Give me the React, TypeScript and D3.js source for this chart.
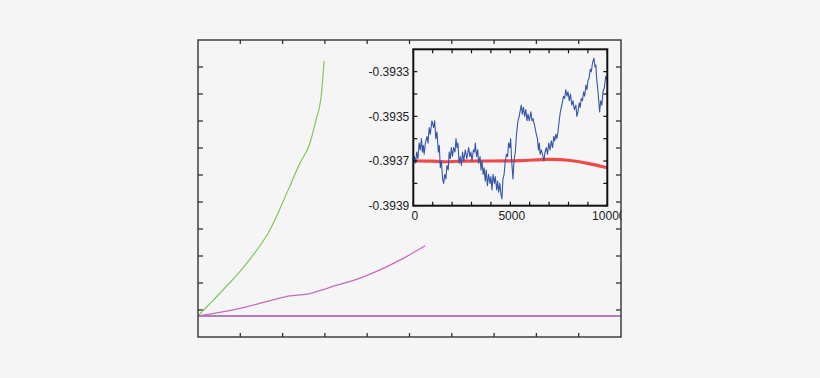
import React from "react";
import * as d3 from "d3";

// Main plot (arbitrary units: x ticks 0..10, y ticks 0..11)
const mainXTicks = [1, 2, 3, 4, 5, 6, 7, 8, 9];
const mainYTicks = [1, 2, 3, 4, 5, 6, 7, 8, 9, 10];
const baselineLevel = 0.78;
const greenX = [0, 0.21, 0.59, 1.15, 1.7, 2.13, 2.41, 2.63, 2.79, 2.92, 2.98];
const greenY = [0.78, 1.12, 1.74, 2.73, 3.96, 5.44, 6.44, 7.11, 8.04, 9.03, 10.22];
const magentaX = [0, 0.99, 1.62, 2.17, 2.57, 3.12, 3.91, 4.38, 4.85, 5.37];
const magentaY = [0.78, 1.06, 1.31, 1.52, 1.59, 1.84, 2.23, 2.54, 2.91, 3.38];

// Inset
const insetXTicks = [0, 1000, 2000, 3000, 4000, 5000, 6000, 7000, 8000, 9000, 10000];
const insetXLabels = [0, 5000, 10000];
const insetYTicks = [-0.3939, -0.3938, -0.3937, -0.3936, -0.3935, -0.3934, -0.3933];
const insetYLabels = [-0.3939, -0.3937, -0.3935, -0.3933];
const blueX = [0, 60, 120, 172, 240, 300, 361, 420, 470, 515, 560, 620, 704, 760, 820, 876, 960, 1048, 1100, 1160, 1220, 1290, 1340, 1392, 1450, 1510, 1564, 1620, 1680, 1735, 1800, 1850, 1907, 1960, 2020, 2079, 2150, 2200, 2251, 2300, 2360, 2423, 2480, 2540, 2600, 2680, 2760, 2852, 2920, 2970, 3024, 3100, 3160, 3196, 3260, 3320, 3368, 3440, 3490, 3540, 3600, 3650, 3711, 3760, 3820, 3883, 3950, 4000, 4055, 4110, 4180, 4227, 4300, 4350, 4399, 4460, 4520, 4570, 4620, 4680, 4742, 4800, 4860, 4914, 4970, 5017, 5070, 5137, 5190, 5258, 5320, 5395, 5460, 5520, 5567, 5620, 5680, 5739, 5800, 5860, 5911, 5980, 6060, 6120, 6168, 6250, 6340, 6400, 6450, 6495, 6540, 6598, 6660, 6735, 6790, 6856, 6920, 6980, 7050, 7113, 7180, 7240, 7285, 7350, 7400, 7457, 7520, 7580, 7629, 7680, 7740, 7801, 7860, 7920, 7973, 8040, 8100, 8170, 8230, 8300, 8380, 8430, 8488, 8550, 8600, 8660, 8720, 8780, 8832, 8900, 8950, 9003, 9060, 9120, 9175, 9240, 9313, 9370, 9410, 9450, 9500, 9550, 9605, 9660, 9720, 9777, 9850, 9920, 10000];
const blueY = [-0.39372, -0.39368, -0.39371, -0.39366, -0.39369, -0.39362, -0.39365, -0.3936, -0.39366, -0.39363, -0.39367, -0.39362, -0.39359, -0.39362, -0.39355, -0.39358, -0.39352, -0.39355, -0.39352, -0.3936, -0.39357, -0.39366, -0.39363, -0.39373, -0.3937, -0.39378, -0.3938, -0.39376, -0.39378, -0.39372, -0.39374, -0.39366, -0.39369, -0.39364, -0.39368, -0.39364, -0.39366, -0.3936, -0.39364, -0.39362, -0.39371, -0.39368, -0.39372, -0.39366, -0.3937, -0.39365, -0.39369, -0.39364, -0.39368, -0.39366, -0.3937, -0.39365, -0.39366, -0.39362, -0.39368, -0.39365, -0.39371, -0.39368, -0.39374, -0.3937, -0.39376, -0.39373, -0.39379, -0.39374, -0.39381, -0.39376, -0.3938, -0.39377, -0.39383, -0.39376, -0.3938, -0.39377, -0.39383, -0.39379, -0.39384, -0.3938, -0.39385, -0.39387, -0.39378, -0.39376, -0.3937, -0.39367, -0.39368, -0.39362, -0.39364, -0.3936, -0.3937, -0.39378, -0.3937, -0.39366, -0.39358, -0.39352, -0.3935, -0.39347, -0.39345, -0.39349, -0.39346, -0.3935, -0.39347, -0.39352, -0.39349, -0.39352, -0.39348, -0.39352, -0.39351, -0.39354, -0.39358, -0.3936, -0.39365, -0.39362, -0.39367, -0.39365, -0.39367, -0.3937, -0.39366, -0.39364, -0.39367, -0.39362, -0.39365, -0.39361, -0.39364, -0.39359, -0.39361, -0.39358, -0.3936, -0.39357, -0.39352, -0.39348, -0.39346, -0.39344, -0.39341, -0.39342, -0.39338, -0.39341, -0.39339, -0.39343, -0.3934, -0.39345, -0.39343, -0.39347, -0.39345, -0.3935, -0.39348, -0.39344, -0.39346, -0.39342, -0.39343, -0.39339, -0.39341, -0.39336, -0.39338, -0.39334, -0.39333, -0.39329, -0.3933, -0.39326, -0.39324, -0.39328, -0.39327, -0.39333, -0.39337, -0.39342, -0.39348, -0.39343, -0.39345, -0.39339, -0.39337, -0.39332, -0.39334];
const redX = [0, 1000, 1500, 2500, 4000, 5500, 7000, 8000, 9000, 10000];
const redY = [-0.3937, -0.3937, -0.393705, -0.3937, -0.3937, -0.3937, -0.39369, -0.393695, -0.39371, -0.39373];

export default function App() {
  const W = 820, H = 378;
  const mx = d3.scaleLinear().domain([0, 10]).range([198, 621]);
  const my = d3.scaleLinear().domain([0, 11]).range([337, 40]);
  const ix = d3.scaleLinear().domain([0, 10000]).range([413.3, 607.3]);
  const iy = d3.scaleLinear().domain([-0.3939, -0.3932]).range([205.7, 49.3]);

  const lineFrom = (xs: number[], ys: number[], sx: any, sy: any, curve: any = d3.curveLinear) =>
    d3.line<number>().curve(curve).x((d) => sx(d)).y((_, i) => sy(ys[i]))(xs) || "";

  const font = "'Liberation Sans', Arial, Helvetica, sans-serif";
  const [x0, x1] = mx.range();
  const [y0, y1] = my.range();
  const [ix0, ix1] = ix.range();
  const [iy0, iy1] = iy.range();

  return (
    <svg width={W} height={H} style={{ position: "absolute", left: 0, top: 0 }}>
      <defs>
        <clipPath id="insetClip">
          <rect x={ix0} y={iy1} width={ix1 - ix0} height={iy0 - iy1} />
        </clipPath>
        <clipPath id="mainClip">
          <rect x={0} y={0} width={x1 + 0.5} height={H} />
        </clipPath>
      </defs>
      <rect x={0} y={0} width={W} height={H} fill="#f5f5f5" />

      {/* main plot */}
      <g stroke="#333" strokeWidth={1.3}>
        {mainXTicks.map((t) => (
          <g key={"mx" + t}>
            <line x1={mx(t)} x2={mx(t)} y1={y1} y2={y1 + 4} />
            <line x1={mx(t)} x2={mx(t)} y1={y0} y2={y0 - 4} />
          </g>
        ))}
        {mainYTicks.map((t) => (
          <g key={"my" + t}>
            <line x1={x0} x2={x0 + 5} y1={my(t)} y2={my(t)} />
            <line x1={x1} x2={x1 - 5} y1={my(t)} y2={my(t)} />
          </g>
        ))}
      </g>
      <line x1={x0} x2={x1} y1={my(baselineLevel)} y2={my(baselineLevel)} stroke="#b07fb8" strokeWidth={2} />
      <path d={lineFrom(greenX, greenY, mx, my, d3.curveMonotoneX)} fill="none" stroke="#7ec85e" strokeWidth={1.2} />
      <path d={lineFrom(magentaX, magentaY, mx, my, d3.curveMonotoneX)} fill="none" stroke="#c46cc4" strokeWidth={1.3} />
      <rect x={x0} y={y1} width={x1 - x0} height={y0 - y1} fill="none" stroke="#333" strokeWidth={1.4} />

      {/* inset */}
      <g clipPath="url(#insetClip)">
        <path d={lineFrom(redX, redY, ix, iy, d3.curveBasis)} fill="none" stroke="#f02a2a" strokeWidth={3.2} opacity={0.85} />
        <path d={lineFrom(blueX, blueY, ix, iy)} fill="none" stroke="#3556a8" strokeWidth={1.1} strokeLinejoin="round" />
      </g>
      <g stroke="#111" strokeWidth={1.2}>
        {insetXTicks.map((t) => (
          <g key={"ix" + t}>
            <line x1={ix(t)} x2={ix(t)} y1={iy1} y2={iy1 + 4} />
            <line x1={ix(t)} x2={ix(t)} y1={iy0} y2={iy0 - 4} />
          </g>
        ))}
        {insetYTicks.map((t) => (
          <g key={"iy" + t}>
            <line x1={ix0} x2={ix0 + 4} y1={iy(t)} y2={iy(t)} />
            <line x1={ix1} x2={ix1 - 4} y1={iy(t)} y2={iy(t)} />
          </g>
        ))}
      </g>
      <rect x={ix0} y={iy1} width={ix1 - ix0} height={iy0 - iy1} fill="none" stroke="#111" strokeWidth={2} />
      <g fontFamily={font} fontSize={12} fill="#222">
        {insetYLabels.map((t) => (
          <text key={"iyl" + t} x={ix0 - 4} y={iy(t)} dy="0.35em" textAnchor="end">
            {d3.format(".4f")(t).replace("−", "-")}
          </text>
        ))}
        <g clipPath="url(#mainClip)">
          {insetXLabels.map((t) => (
            <text key={"ixl" + t} x={ix(t) + 1.5} y={219.5} textAnchor="middle">
              {t}
            </text>
          ))}
        </g>
      </g>
    </svg>
  );
}
